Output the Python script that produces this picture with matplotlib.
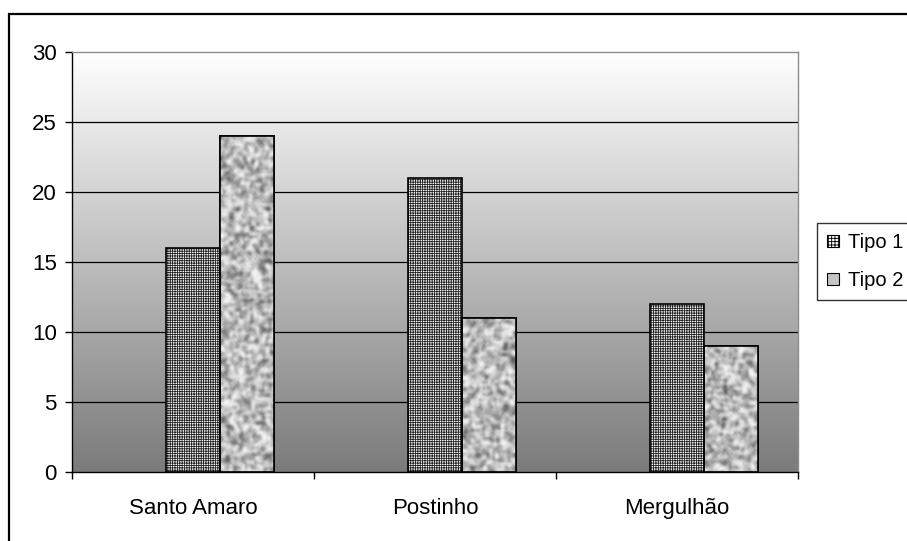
import numpy as np
import matplotlib
matplotlib.use("Agg")
import matplotlib.pyplot as plt
import matplotlib.patches as patches
from matplotlib.colors import LinearSegmentedColormap

plt.rcParams['font.family'] = ['Liberation Sans', 'DejaVu Sans']
plt.rcParams['hatch.linewidth'] = 0.6

# data
categories = ["Santo Amaro", "Postinho", "Mergulhão"]
tipo1 = [16, 21, 12]
tipo2 = [24, 11, 9]
series_names = ["Tipo 1", "Tipo 2"]
yticks = [0, 5, 10, 15, 20, 25, 30]

W, H = 907, 541
fig = plt.figure(figsize=(W / 100, H / 100), dpi=100)

# outer chart frame (runs off the right/bottom of the picture)
fig.add_artist(patches.Rectangle((9 / W, -0.1), 1.2, 1 - 14 / H + 0.1,
                                 transform=fig.transFigure, fill=False,
                                 edgecolor='black', linewidth=1.6))

ax = fig.add_axes([72 / W, 1 - 472 / H, (798 - 72) / W, 420 / H])
x = np.arange(len(categories))
bw = 1 / 4.5   # Excel layout: three series slots, gap width 150%
xlim = (-0.5, len(categories) - 0.5)
ylim = (0, 30)

# gradient background: white at top, grey at bottom
grad = np.linspace(0, 1, 256).reshape(-1, 1)
bg_cmap = LinearSegmentedColormap.from_list("bg", ["#7b7b7b", "#ffffff"])
ax.imshow(grad, extent=[xlim[0], xlim[1], ylim[0], ylim[1]], origin='lower',
          cmap=bg_cmap, aspect='auto', zorder=0)

# gridlines
for t in yticks[1:-1]:
    ax.axhline(t, color='black', linewidth=0.9, zorder=1)

# Tipo 1: fine grid pattern
b1 = ax.bar(x, tipo1, bw, facecolor='white', edgecolor='#222222',
            hatch='+++++++', linewidth=0, zorder=2)
ax.bar(x, tipo1, bw, fill=False, edgecolor='black', linewidth=1.2, zorder=3)

# Tipo 2: granite-like texture clipped to the bars
rng = np.random.default_rng(3)
tex_cmap = LinearSegmentedColormap.from_list("tex", ["#505050", "#acacac", "#f4f4f4"])
b2 = ax.bar(x + bw, tipo2, bw, facecolor='#c4c4c4', edgecolor='black',
            linewidth=1.2, zorder=2)
for bar in b2:
    h = bar.get_height()
    n = rng.random((int(h * 7) + 3, 28))
    n = (n + np.roll(n, 1, 0) + np.roll(n, -1, 0) + np.roll(n, 1, 1) + np.roll(n, -1, 1)) / 5
    n = (n - n.mean()) / n.std()
    im = ax.imshow(n, extent=[bar.get_x(), bar.get_x() + bar.get_width(), 0, h],
                   cmap=tex_cmap, vmin=-2.7, vmax=1.7, aspect='auto',
                   interpolation='bicubic', zorder=2.5)
    im.set_clip_path(bar)
ax.bar(x + bw, tipo2, bw, fill=False, edgecolor='black', linewidth=1.2, zorder=3)

ax.set_xlim(*xlim)
ax.set_ylim(*ylim)

ax.set_yticks(yticks)
ax.set_yticklabels([str(t) for t in yticks], fontsize=16)
ax.set_xticks(x)
ax.set_xticklabels(categories, fontsize=16)
ax.tick_params(axis='x', length=0, pad=19)
ax.set_xticks(np.arange(len(categories) + 1) - 0.5, minor=True)
ax.tick_params(axis='x', which='minor', length=5, width=1, direction='out')
ax.tick_params(axis='y', length=5, width=1, direction='out', pad=6)

ax.spines['left'].set_color('black')
ax.spines['bottom'].set_color('black')
ax.spines['top'].set_color('#8c8c8c')
ax.spines['right'].set_color('#8c8c8c')
for s in ax.spines.values():
    s.set_linewidth(1.0)

# legend
handles = [patches.Patch(facecolor='white', edgecolor='black', hatch='+++++', linewidth=0.8),
           patches.Patch(facecolor='#c4c4c4', edgecolor='black', linewidth=0.8)]
leg = fig.legend(handles, series_names, loc='upper left', bbox_to_anchor=(817 / W, 1 - 223 / H),
                 fontsize=14.5, frameon=True, fancybox=False, edgecolor='black',
                 handlelength=0.6, handleheight=0.6, handletextpad=0.45,
                 labelspacing=0.95, borderpad=0.5, borderaxespad=0)
leg.get_frame().set_linewidth(1.0)

fig.savefig("out.png", dpi=100)
